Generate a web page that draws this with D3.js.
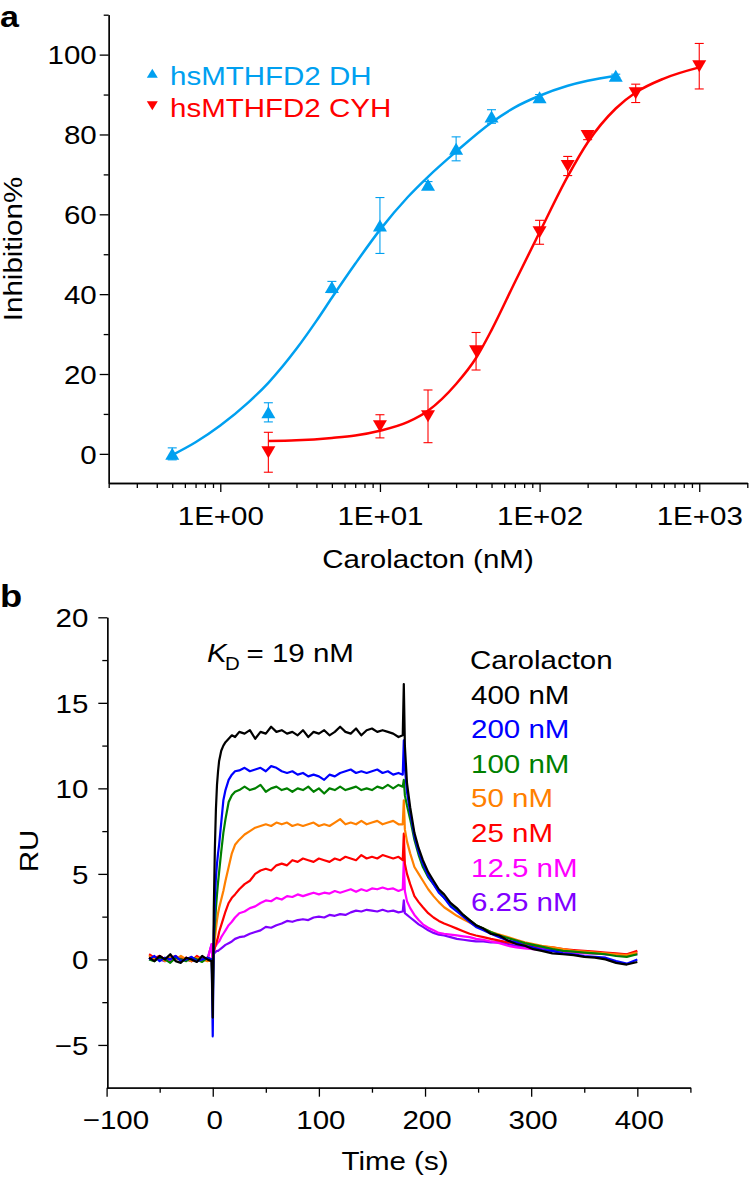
<!DOCTYPE html>
<html><head><meta charset="utf-8">
<script src="https://cdn.jsdelivr.net/npm/d3@7"></script>
<style>
html,body{margin:0;padding:0;background:#fff;}
svg{display:block;}
</style></head><body>
<svg id="chart" width="756" height="1178"></svg>
<script>
// ---------------- Panel a data ----------------
const dhX   = [0.5, 2, 5, 10, 20, 30, 50, 100, 300];
const dhY   = [0, 10.4, 41.8, 57.2, 67.4, 76.4, 84.5, 89.3, 94.7];
const dhErr = [1.5, 2.4, 1.4, 7, 0.8, 3, 1.7, 0.7, 0.4];
const cyhX   = [2, 10, 20, 40, 100, 150, 200, 400, 1000];
const cyhY   = [0.4, 6.9, 9.4, 25.7, 55.5, 72.1, 79.6, 90.3, 97.1];
const cyhErr = [5, 2.9, 6.6, 4.7, 3, 2.4, 0.9, 2.3, 5.7];
// fitted curves
const dhFitX = [0.5, 0.7, 1, 1.5, 2, 3, 4, 5, 7, 10, 15, 20, 30, 50, 70, 100, 150, 200, 300];
const dhFitY = [-0.3, 2.9, 7.1, 12.9, 17.8, 26.3, 33.3, 39.1, 47.6, 56.1, 64.4, 69.4, 75.7, 83.0, 86.8, 89.7, 92.2, 93.45, 94.7];
const cyhFitX = [2, 3, 5, 7, 10, 15, 20, 30, 40, 50, 70, 100, 150, 200, 300, 400, 600, 1000];
const cyhFitY = [3.2, 3.4, 4, 4.6, 5.8, 8, 10.8, 17.5, 24, 31, 43, 55.5, 69.5, 78, 86.5, 90.5, 94, 96.8];
const seriesA = ["hsMTHFD2 DH", "hsMTHFD2 CYH"];
const yTicksA = [0, 20, 40, 60, 80, 100];
const yMinorA = [10, 30, 50, 70, 90, 110];
const xTicksA = [1, 10, 100, 1000];
const xTickLabelsA = ["1E+00", "1E+01", "1E+02", "1E+03"];

// ---------------- Panel b data ----------------
const sprTime = [-60,-55,-50,-45,-40,-35,-30,-25,-20,-15,-10,-5,-1,
  0,1,2,3,4,5,6,
  8,10,12,15,18,21,25,
  30,35,40,45,50,55,60,65,70,75,80,85,90,95,100,105,110,115,120,125,130,135,140,145,150,155,160,165,170,175,
  179,180,181,183,186,190,194,198,
  203,208,213,218,224,230,236,242,248,
  255,262,270,278,286,294,302,310,
  320,330,340,350,360,370,380,390,400];
const spr400 = [0.1,-0.1,0.2,0.0,0.3,-0.1,-0.2,0.1,0.0,-0.15,0.2,0.0,-0.1,
  -3.4,3.0,6.5,8.8,10.2,11.0,11.6,
  12.2,12.5,12.7,12.9,13.1,13.0,13.3,
  13.2,13.4,12.9,13.3,13.2,13.6,13.3,13.4,13.2,13.3,13.1,13.4,13.0,13.3,13.2,13.4,13.1,13.3,13.6,13.3,13.2,13.5,13.1,13.4,13.5,13.3,13.4,13.3,13.2,13.0,
  13.1,16.1,12.5,10.3,8.9,7.4,6.5,5.8,
  5.1,4.6,4.1,3.8,3.3,3.0,2.6,2.3,2.0,
  1.8,1.5,1.4,1.1,0.9,0.8,0.6,0.5,
  0.35,0.3,0.25,0.15,0.1,0.0,-0.2,-0.3,-0.15];
const spr200 = [0.0,0.2,-0.1,0.1,0.0,0.2,-0.1,0.0,0.15,-0.1,0.0,0.1,0.0,
  -4.5,1.5,3.5,4.8,5.6,6.2,6.7,
  8.0,9.3,9.9,10.5,10.8,11.0,11.05,
  11.2,11.0,11.1,11.2,11.0,11.3,11.2,11.0,10.9,11.0,10.8,10.9,10.7,10.8,10.7,10.5,10.8,10.7,10.9,11.0,11.1,10.9,11.0,10.9,11.0,11.1,10.9,11.0,10.8,10.9,
  10.8,12.8,11.2,9.8,8.6,7.2,6.3,5.6,
  4.9,4.4,3.9,3.6,3.1,2.8,2.5,2.2,1.9,
  1.7,1.5,1.3,1.1,1.0,0.8,0.7,0.55,
  0.5,0.35,0.3,0.2,0.15,0.1,-0.1,-0.25,0.0];
const spr100 = [0.0,-0.1,0.1,0.0,-0.2,0.1,0.0,-0.1,0.1,0.0,-0.15,0.1,0.0,
  -2.2,0.8,2.0,3.0,3.8,4.5,5.1,
  6.3,7.4,8.2,9.2,9.6,9.8,9.9,
  10.1,9.9,10.0,10.2,9.8,10.0,10.1,9.9,10.0,9.8,10.0,9.9,10.1,9.8,10.0,9.7,10.0,9.9,10.1,9.9,10.0,10.1,9.9,10.0,9.9,10.1,10.0,10.2,10.0,10.2,
  10.1,10.5,9.6,9.0,8.2,7.0,6.1,5.4,
  4.8,4.4,4.0,3.6,3.25,2.9,2.6,2.3,2.0,
  1.8,1.6,1.4,1.25,1.1,0.95,0.85,0.75,
  0.6,0.5,0.45,0.4,0.35,0.3,0.2,0.15,0.3];
const spr50 = [0.2,0.0,0.1,-0.1,0.1,0.0,0.2,0.0,-0.1,0.1,0.0,-0.1,0.0,
  -1.5,0.6,1.2,1.8,2.3,2.7,3.0,
  3.5,4.0,4.6,5.4,6.2,6.7,7.0,
  7.3,7.5,7.7,7.8,7.9,7.8,8.0,7.9,8.0,7.8,7.9,7.8,7.9,8.0,7.8,7.9,7.8,8.0,8.2,7.9,8.0,7.9,8.1,7.9,8.0,8.1,7.9,8.0,8.1,7.9,
  7.9,9.3,7.6,6.9,6.2,5.4,5.0,4.6,
  4.1,3.7,3.35,3.05,2.8,2.55,2.35,2.15,1.95,
  1.8,1.6,1.45,1.3,1.15,1.0,0.9,0.8,
  0.7,0.6,0.5,0.45,0.4,0.35,0.3,0.25,0.4];
const spr25 = [0.3,0.1,0.2,0.0,0.1,0.2,0.0,0.1,-0.1,0.2,0.0,0.1,0.0,
  -1.0,0.4,0.7,0.9,1.1,1.3,1.6,
  2.0,2.4,2.8,3.3,3.6,3.8,4.1,
  4.4,4.6,5.0,5.2,5.3,5.2,5.5,5.6,5.5,5.8,5.7,5.9,5.8,5.7,5.9,5.8,5.7,5.9,5.8,6.0,5.9,5.8,6.1,5.9,6.0,5.9,6.1,6.0,5.9,6.0,
  5.8,7.35,5.6,5.0,4.4,3.7,3.35,3.05,
  2.7,2.45,2.25,2.1,1.95,1.8,1.65,1.5,1.4,
  1.3,1.2,1.1,1.0,0.95,0.9,0.8,0.75,
  0.7,0.6,0.55,0.5,0.45,0.4,0.35,0.3,0.5];
const spr12 = [0.1,0.0,0.2,0.0,-0.1,0.1,0.0,0.1,0.0,-0.1,0.1,0.0,0.9,
  -0.5,0.5,0.7,0.8,0.9,1.0,1.05,
  1.3,1.5,1.7,2.0,2.2,2.45,2.7,
  2.8,3.0,3.1,3.3,3.45,3.4,3.6,3.5,3.7,3.65,3.8,3.7,3.8,3.9,3.8,3.9,3.85,4.0,3.9,4.0,4.1,3.95,4.1,4.0,4.15,4.1,4.2,4.1,4.15,4.0,
  4.1,5.8,4.0,3.4,3.0,2.6,2.3,2.05,
  1.85,1.7,1.55,1.5,1.45,1.4,1.35,1.3,1.2,
  1.15,1.05,0.95,0.8,0.7,0.65,0.6,0.55,
  0.5,0.45,0.4,0.35,0.35,0.3,0.25,0.3,0.4];
const spr6 = [0.0,0.1,0.0,-0.1,0.1,0.0,0.1,0.0,-0.1,0.0,0.1,0.0,0.9,
  -0.3,0.3,0.4,0.45,0.5,0.5,0.55,
  0.65,0.75,0.85,0.95,1.05,1.2,1.3,
  1.35,1.5,1.6,1.7,1.9,1.85,2.0,2.1,2.25,2.2,2.3,2.35,2.3,2.45,2.5,2.45,2.6,2.55,2.65,2.6,2.75,2.85,2.8,2.9,2.85,2.8,2.9,2.8,2.85,2.75,
  2.8,3.45,2.7,2.6,2.45,2.25,2.05,1.9,
  1.7,1.55,1.45,1.4,1.3,1.2,1.15,1.1,1.05,
  1.05,1.0,1.0,0.9,0.8,0.75,0.7,0.65,
  0.6,0.5,0.45,0.4,0.35,0.3,0.3,0.25,0.3];
const concLabels = ["400 nM", "200 nM", "100 nM", "50 nM", "25 nM", "12.5 nM", "6.25 nM"];
const concColors = ["#000000", "#0000ff", "#008000", "#ff8000", "#ff0000", "#ff00ff", "#8000ff"];
const yTicksB = [-5, 0, 5, 10, 15, 20];
const yTickLabelsB = ["\u22125", "0", "5", "10", "15", "20"];
const yMinorB = [-2.5, 2.5, 7.5, 12.5, 17.5];
const xTicksB = [-100, 0, 100, 200, 300, 400];
const xTickLabelsB = ["\u2212100", "0", "100", "200", "300", "400"];
const xMinorB = [-50, 50, 150, 250, 350, 450];

// ---------------- drawing ----------------
const FAMILY = '"Liberation Sans", Arial, Helvetica, sans-serif';
const SX = 1.135, FONT = 26;
const BLUE = "#00a0f0", RED = "#ff0000";
const svg = d3.select("#chart").attr("font-family", FAMILY);

function stext(x, y, str, o = {}) {
  const t = svg.append("text")
    .attr("transform", `translate(${x},${y})` + (o.rotate ? ` rotate(${o.rotate})` : "") + ` scale(${SX},1)`)
    .attr("text-anchor", o.anchor || "start")
    .attr("font-size", o.size || FONT)
    .attr("fill", o.fill || "#000")
    .text(str);
  if (o.weight) t.attr("font-weight", o.weight);
  if (o.style) t.attr("font-style", o.style);
  return t;
}
function styleAxis(g) {
  g.attr("font-family", FAMILY);
  g.select(".domain").attr("stroke", "#000").attr("stroke-width", 1.3);
  g.selectAll(".tick line").attr("stroke", "#000").attr("stroke-width", 1.3);
  g.selectAll(".tick text").attr("font-size", FONT).attr("fill", "#000").attr("transform", `scale(${SX},1)`);
}

// Panel a scales
const xA = d3.scaleLog().domain([0.2, 2000]).range([108.7, 747.3]);
const yA = d3.scaleLinear().domain([-7.3, 110]).range([483, 14.7]);

svg.append("g").attr("transform", "translate(108.7,0)")
  .call(d3.axisLeft(yA).tickValues(yMinorA).tickSize(5).tickSizeOuter(0).tickFormat(""))
  .call(styleAxis);
svg.append("g").attr("transform", "translate(108.7,0)")
  .call(d3.axisLeft(yA).tickValues(yTicksA).tickSize(9).tickSizeOuter(0).tickFormat(d3.format("d")))
  .call(styleAxis)
  .call(g => g.selectAll(".tick text").attr("x", -12 / SX).attr("dy", "0.36em"));

const xMinorA = xA.ticks().filter(v => Math.abs(Math.log10(v) - Math.round(Math.log10(v))) > 1e-6);
svg.append("g").attr("transform", "translate(0,483)")
  .call(d3.axisBottom(xA).tickValues(xMinorA).tickSize(5).tickSizeOuter(0).tickFormat(""))
  .call(styleAxis);
svg.append("g").attr("transform", "translate(0,483)")
  .call(d3.axisBottom(xA).tickValues(xTicksA).tickSize(9).tickSizeOuter(0).tickFormat((d, i) => xTickLabelsA[i]))
  .call(styleAxis)
  .call(g => g.selectAll(".tick text").attr("y", 42).attr("dy", 0));

const lineA = d3.line().x(d => xA(d[0])).y(d => yA(d[1])).curve(d3.curveMonotoneX);
svg.append("path").datum(d3.zip(dhFitX, dhFitY)).attr("d", lineA)
  .attr("fill", "none").attr("stroke", BLUE).attr("stroke-width", 2.5);
svg.append("path").datum(d3.zip(cyhFitX, cyhFitY)).attr("d", lineA)
  .attr("fill", "none").attr("stroke", RED).attr("stroke-width", 2.5);

function tri(w, h, up) {
  return up ? `M0,${-h / 2}L${w / 2},${h / 2}L${-w / 2},${h / 2}Z`
            : `M0,${h / 2}L${w / 2},${-h / 2}L${-w / 2},${-h / 2}Z`;
}
function drawSeries(xs, ys, es, color, up) {
  const g = svg.append("g");
  xs.forEach((x, i) => {
    const px = xA(x), y1 = yA(ys[i] - es[i]), y2 = yA(ys[i] + es[i]);
    g.append("line").attr("x1", px).attr("x2", px).attr("y1", y1).attr("y2", y2)
      .attr("stroke", color).attr("stroke-width", 1.1);
    [y1, y2].forEach(yy => g.append("line").attr("x1", px - 4.5).attr("x2", px + 4.5)
      .attr("y1", yy).attr("y2", yy).attr("stroke", color).attr("stroke-width", 1.1));
  });
  xs.forEach((x, i) => {
    g.append("path").attr("d", tri(14, 12, up))
      .attr("transform", `translate(${xA(x)},${yA(ys[i])})`).attr("fill", color);
  });
}
drawSeries(dhX, dhY, dhErr, BLUE, true);
drawSeries(cyhX, cyhY, cyhErr, RED, false);

// legend a
svg.append("path").attr("d", tri(11, 9, true)).attr("transform", "translate(152.3,73.3)").attr("fill", BLUE);
svg.append("path").attr("d", tri(11, 9, false)).attr("transform", "translate(152.3,105.8)").attr("fill", RED);
stext(170, 85, seriesA[0], { fill: BLUE });
stext(170, 116.5, seriesA[1], { fill: RED });

stext(428, 568, "Carolacton (nM)", { anchor: "middle" });
stext(22, 249, "Inhibition%", { anchor: "middle", rotate: -90 });
stext(0, 27, "a", { weight: "bold", size: 30 });

// Panel b scales
const xB = d3.scaleLinear().domain([-100, 450]).range([106.6, 690.4]);
const yB = d3.scaleLinear().domain([-7.5, 20]).range([1087.7, 617.3]);

svg.append("g").attr("transform", "translate(107.3,0)")
  .call(d3.axisLeft(yB).tickValues(yMinorB).tickSize(5).tickSizeOuter(0).tickFormat(""))
  .call(styleAxis);
svg.append("g").attr("transform", "translate(107.3,0)")
  .call(d3.axisLeft(yB).tickValues(yTicksB).tickSize(9).tickSizeOuter(0).tickFormat((d, i) => yTickLabelsB[i]))
  .call(styleAxis)
  .call(g => g.selectAll(".tick text").attr("x", -19 / SX).attr("dy", "0.36em"));
svg.append("g").attr("transform", "translate(0,1087.7)")
  .call(d3.axisBottom(xB).tickValues(xMinorB).tickSize(5).tickSizeOuter(0).tickFormat(""))
  .call(styleAxis);
svg.append("g").attr("transform", "translate(0,1087.7)")
  .call(d3.axisBottom(xB).tickValues(xTicksB).tickSize(9).tickSizeOuter(0).tickFormat((d, i) => xTickLabelsB[i]))
  .call(styleAxis)
  .call(g => g.selectAll(".tick text").attr("y", 41).attr("dy", 0)
    .attr("dx", d => d < 0 ? "0.3em" : "0.05em"));

const sprSeries = [spr400, spr200, spr100, spr50, spr25, spr12, spr6];
const lineB = d3.line().x(d => xB(d[0])).y(d => yB(d[1]));
for (let k = sprSeries.length - 1; k >= 0; k--) {
  svg.append("path").datum(d3.zip(sprTime, sprSeries[k])).attr("d", lineB)
    .attr("fill", "none").attr("stroke", concColors[k]).attr("stroke-width", 2.2)
    .attr("stroke-linejoin", "round");
}

// legend b
stext(470, 669, "Carolacton");
concLabels.forEach((lab, i) => stext(471, 703.6 + i * 34.6, lab, { fill: concColors[i] }));

// K_D annotation
stext(207, 662, "K", { style: "italic" });
stext(225, 670, "D", { size: 18 });
stext(246.5, 662, "= 19 nM");

stext(395, 1170, "Time (s)", { anchor: "middle" });
stext(38, 851, "RU", { anchor: "middle", rotate: -90 });
stext(0, 607, "b", { weight: "bold", size: 32 });
</script></body></html>
